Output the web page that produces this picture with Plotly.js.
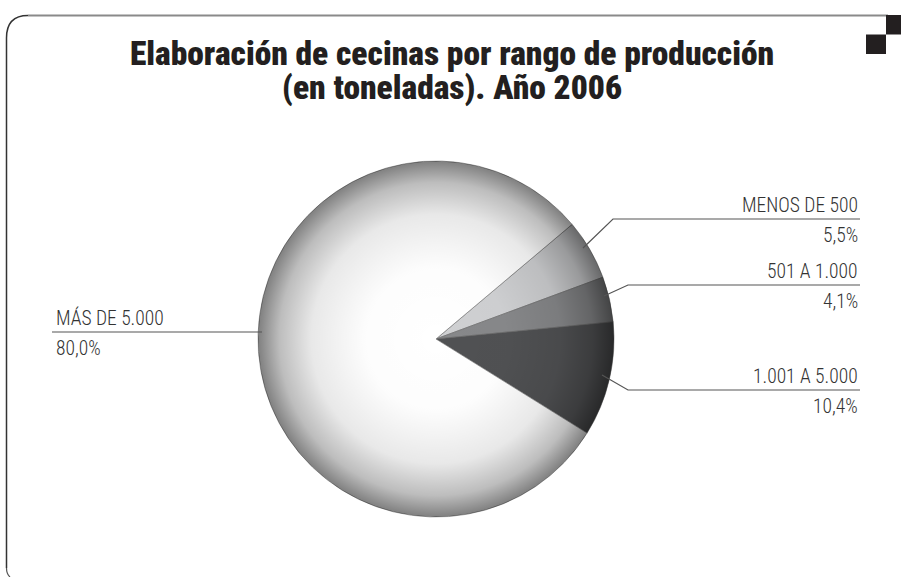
<!DOCTYPE html>
<html>
<head>
<meta charset="utf-8">
<script src="https://cdn.plot.ly/plotly-3.0.1.min.js"></script>
<style>html,body{margin:0;padding:0;background:#fff;}#chart{width:901px;height:577px;}</style>
</head>
<body>
<div id="chart"></div>
<script>
// ---- data ----
const categories = ["MENOS DE 500", "501 A 1.000", "1.001 A 5.000", "MÁS DE 5.000"];
const shares = [5.5, 4.1, 10.4, 80.0];
const titleLines = ["Elaboración de cecinas por rango de producción", "(en toneladas). Año 2006"];

// ---- styling / layout ----
const W = 901, H = 577;
const sliceColors = ["#cfd0d2", "#87888a", "#505153", "#ffffff"];
const cond = "'Roboto Condensed', 'Open Sans Condensed', 'DejaVu Sans Condensed', sans-serif";
const cx = 436, cy = 339, R = 178;
// label placement (pixels): [textX, lineStartX, lineY, elbowX, tipX, tipY, align]
const labelGeom = [
  [860, 860, 219, 613, 583, 248, "right"],
  [860, 860, 285, 628, 604, 296, "right"],
  [860, 860, 390, 628, 602, 375, "right"],
  [54, 52, 332, 262, 262, 332, "left"]
];
const titleY = [53, 87.5];

const px = x => x / W;
const py = y => 1 - y / H;
const fmt = v => v.toFixed(1).replace('.', ',') + '%';

const trace = {
  type: 'pie',
  labels: categories,
  values: shares,
  sort: false,
  direction: 'clockwise',
  rotation: 49.9,
  textinfo: 'none',
  hoverinfo: 'label+percent',
  marker: { colors: sliceColors, line: { color: '#6a6a6a', width: 0.6 } },
  domain: { x: [px(cx - R), px(cx + R)], y: [py(cy + R), py(cy - R)] },
  showlegend: false
};

const annotations = [];
const shapes = [];
titleLines.forEach((t, i) => {
  annotations.push({
    xref: 'paper', yref: 'paper', x: px(452), y: py(titleY[i]), xanchor: 'center', yanchor: 'middle',
    text: t, showarrow: false,
    font: { family: cond, size: 33.5, weight: 900, color: '#231f20' }
  });
});
categories.forEach((c, i) => {
  const [tx0, x0, ly, ex, tx, ty, al] = labelGeom[i];
  const xa = al === 'right' ? 'right' : 'left';
  const lf = { family: cond, size: 19.5, weight: 300, color: '#333' };
  annotations.push({
    xref: 'paper', yref: 'paper', x: px(tx0), y: py(ly), xanchor: xa, yanchor: 'bottom',
    text: c, showarrow: false, font: lf
  });
  annotations.push({
    xref: 'paper', yref: 'paper', x: px(tx0), y: py(ly + 2.5), xanchor: xa, yanchor: 'top',
    text: fmt(shares[i]), showarrow: false, font: lf
  });
  shapes.push({
    type: 'path', xref: 'paper', yref: 'paper', layer: 'above',
    path: `M ${px(x0)},${py(ly)} L ${px(ex)},${py(ly)} L ${px(tx)},${py(ty)}`,
    line: { color: '#555', width: 1.2 }
  });
});

// frame
shapes.push({
  type: 'path', xref: 'paper', yref: 'paper', layer: 'below',
  path: `M ${px(6.5)},${py(568)} L ${px(6.5)},${py(38)} Q ${px(6.5)},${py(15.5)} ${px(28)},${py(15.5)}`,
  line: { color: '#333', width: 1.5 }
});
shapes.push({
  type: 'path', xref: 'paper', yref: 'paper', layer: 'below',
  path: `M ${px(6.5)},${py(568)} Q ${px(6.5)},${py(574)} ${px(10)},${py(577)}`,
  line: { color: '#555', width: 1.2 }
});
shapes.push({
  type: 'line', xref: 'paper', yref: 'paper', layer: 'below',
  x0: px(28), x1: px(888), y0: py(15.5), y1: py(15.5),
  line: { color: '#8a8a8a', width: 2 }
});
shapes.push({ type: 'rect', xref: 'paper', yref: 'paper', x0: px(886), x1: px(901), y0: py(15), y1: py(34.5), fillcolor: '#231f20', line: { width: 0 } });
shapes.push({ type: 'rect', xref: 'paper', yref: 'paper', x0: px(866), x1: px(886), y0: py(34.5), y1: py(54), fillcolor: '#231f20', line: { width: 0 } });

// sphere-like rim shading overlay
const svg = `<svg xmlns='http://www.w3.org/2000/svg' width='400' height='400'><defs><radialGradient id='g' cx='50%' cy='50%' r='50%'><stop offset='0' stop-color='#000' stop-opacity='0'/><stop offset='0.4' stop-color='#000' stop-opacity='0.01'/><stop offset='0.7' stop-color='#000' stop-opacity='0.09'/><stop offset='0.88' stop-color='#000' stop-opacity='0.26'/><stop offset='1' stop-color='#000' stop-opacity='0.5'/></radialGradient></defs><circle cx='200' cy='200' r='200' fill='url(#g)'/></svg>`;
const images = [{
  source: 'data:image/svg+xml;charset=utf-8,' + encodeURIComponent(svg),
  xref: 'paper', yref: 'paper', x: px(cx - R), y: py(cy - R),
  sizex: 2 * R / W, sizey: 2 * R / H, xanchor: 'left', yanchor: 'top',
  sizing: 'stretch', layer: 'above'
}];

const layout = {
  width: W, height: H,
  margin: { l: 0, r: 0, t: 0, b: 0 },
  paper_bgcolor: '#fff',
  annotations: annotations,
  shapes: shapes,
  images: images,
  showlegend: false
};

Plotly.newPlot('chart', [trace], layout, { displayModeBar: false, staticPlot: true });
</script>
</body>
</html>
